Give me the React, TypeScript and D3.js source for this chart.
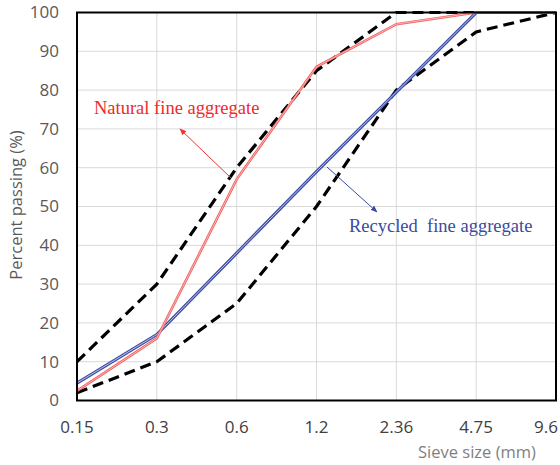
import React from 'react';
import * as d3 from 'd3';

const sieveSizes = ['0.15', '0.3', '0.6', '1.2', '2.36', '4.75', '9.6'];
const upperLimit = [10, 30, 60, 85, 100, 100, 100];
const lowerLimit = [2, 10, 25, 50, 80, 95, 100];
const naturalFine = [2.5, 16, 57, 86, 97, 100, 100];
const recycledFine = [4.5, 17, 38, 59, 79.5, 100, 100];
const yTicks = [0, 10, 20, 30, 40, 50, 60, 70, 80, 90, 100];

const W = 560;
const H = 465;
const margin = { top: 12.5, right: 4, bottom: 64.5, left: 77 };
const font = '"Open Sans", "Liberation Sans", Arial, sans-serif';
const serif = '"Liberation Serif", "Times New Roman", serif';

const App = () => {
  const x = d3
    .scalePoint()
    .domain(sieveSizes)
    .range([margin.left, W - margin.right]);
  const y = d3
    .scaleLinear()
    .domain([0, 100])
    .range([H - margin.bottom, margin.top]);

  const line = (vals: number[]) =>
    d3
      .line<number>()
      .x((_, i) => x(sieveSizes[i]) as number)
      .y((d) => y(d))(vals) as string;

  const x0 = margin.left;
  const x1 = W - margin.right;
  const y0 = H - margin.bottom;
  const y1 = margin.top;
  const last = sieveSizes[sieveSizes.length - 1];

  return (
    <svg width={W} height={H} style={{ position: 'absolute', left: 0, top: 0 }}>
      <defs>
        <marker id="arRed" viewBox="0 0 10 10" refX="9" refY="5" markerWidth="7" markerHeight="7" orient="auto">
          <path d="M0,1 L10,5 L0,9 Z" fill="#ee3333" />
        </marker>
        <marker id="arBlue" viewBox="0 0 10 10" refX="9" refY="5" markerWidth="7" markerHeight="7" orient="auto">
          <path d="M0,1 L10,5 L0,9 Z" fill="#3a4aa0" />
        </marker>
      </defs>
      <rect width={W} height={H} fill="#fff" />
      {/* grid */}
      {yTicks.map((t) => (
        <line key={'gy' + t} x1={x0} x2={x1} y1={y(t)} y2={y(t)} stroke="#d9d9d9" strokeWidth={1} />
      ))}
      {sieveSizes.map((s) => (
        <line key={'gx' + s} x1={x(s)} x2={x(s)} y1={y1} y2={y0} stroke="#d9d9d9" strokeWidth={1} />
      ))}

      {/* series */}
      <path d={line(lowerLimit)} fill="none" stroke="#000" strokeWidth={3.2} strokeDasharray="11,6" />
      <path d={line(upperLimit)} fill="none" stroke="#000" strokeWidth={3.2} strokeDasharray="11,6" />
      <path d={line(recycledFine)} fill="none" stroke="#3f4fa6" strokeWidth={3.2} />
      <path d={line(recycledFine)} fill="none" stroke="#b9c0e6" strokeWidth={1} />
      <path d={line(naturalFine)} fill="none" stroke="#f06464" strokeWidth={2.6} />
      <path d={line(naturalFine)} fill="none" stroke="#ffc4c4" strokeWidth={0.8} />

      {/* border */}
      <rect x={x0} y={y1} width={x1 - x0} height={y0 - y1} fill="none" stroke="#000" strokeWidth={2} />

      {/* ticks */}
      {yTicks.map((t) => (
        <text key={'ty' + t} x={59} y={y(t)} dy="0.35em" textAnchor="end" fontFamily={font} fontSize={17} fill="#595959">
          {t}
        </text>
      ))}
      {sieveSizes.map((s) => (
        <text
          key={'tx' + s}
          x={s === last ? 558 : x(s)}
          y={427}
          dy="0.35em"
          textAnchor={s === last ? 'end' : 'middle'}
          fontFamily={font}
          fontSize={17}
          fill="#404040"
        >
          {s}
        </text>
      ))}

      <text transform="translate(22,205) rotate(-90)" textAnchor="middle" fontFamily={font} fontSize={16.5} fill="#595959">
        Percent passing (%)
      </text>
      <text x={477} y={452} dy="0.35em" textAnchor="middle" fontFamily={font} fontSize={16.5} fill="#7f7f7f">
        Sieve size (mm)
      </text>

      {/* annotations */}
      <text x={94} y={114} fontFamily={serif} fontSize={18.5} fill="#ee2a2a">
        Natural fine aggregate
      </text>
      <line x1={231} y1={178} x2={180} y2={129} stroke="#ee3333" strokeWidth={1} markerEnd="url(#arRed)" />
      <text x={349} y={232} fontFamily={serif} fontSize={18.5} fill="#3a4aa0" xmlSpace="preserve">
        Recycled  fine aggregate
      </text>
      <line x1={327} y1={167} x2={377} y2={212} stroke="#3a4aa0" strokeWidth={1} markerEnd="url(#arBlue)" />
    </svg>
  );
};

export default App;
